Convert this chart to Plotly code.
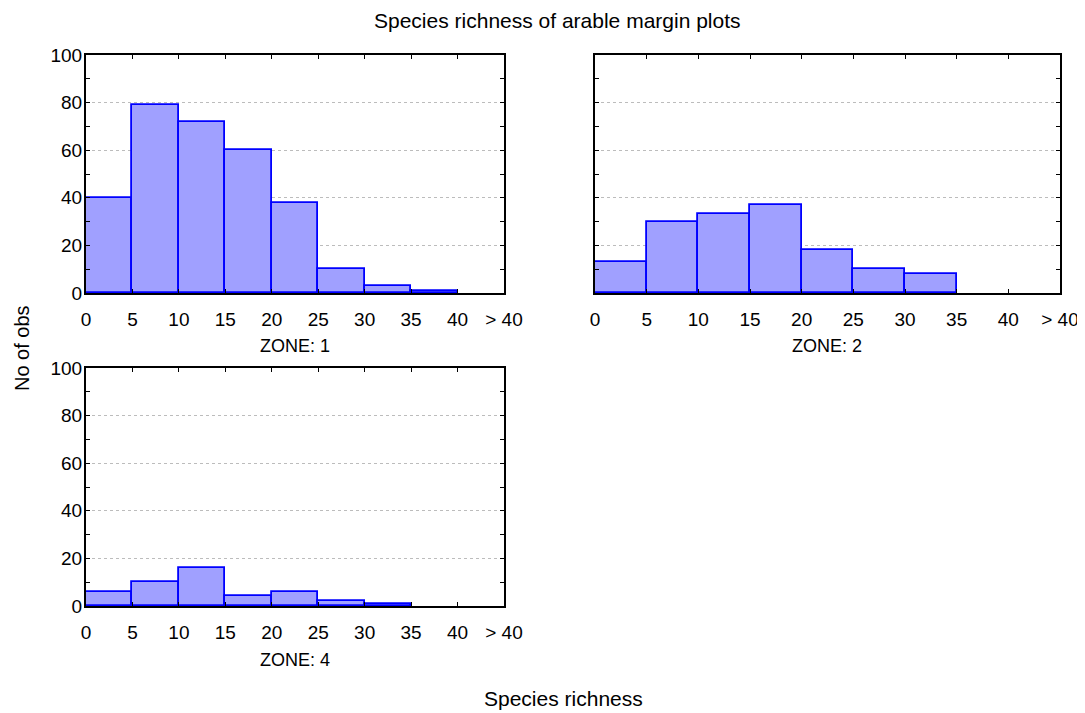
import plotly.graph_objects as go

# ---- data ----
bin_edges = [0, 5, 10, 15, 20, 25, 30, 35, 40]
bin_width = 5
x_tick_vals = [0, 5, 10, 15, 20, 25, 30, 35, 40, 45]
x_tick_labels = ['0', '5', '10', '15', '20', '25', '30', '35', '40', '> 40']
y_tick_vals = [0, 20, 40, 60, 80, 100]
zone_names = ['ZONE: 1', 'ZONE: 2', 'ZONE: 4']
zone1_counts = [40, 79, 72, 60, 38, 10, 3, 1]
zone2_counts = [13, 30, 33, 37, 18, 10, 8, 0]
zone4_counts = [6, 10, 16, 4, 6, 2, 1, 0]

W, H = 1085, 713
OFF = 8  # page body margin
FONT = 'Liberation Sans, Arial, sans-serif'
FS_TICK = 19
FS_ZONE = 18
FS_TITLE = 21


def px_x(p):
    return (p - OFF) / W


def px_y(p):
    return 1 - (p - OFF) / H


centers = [e + bin_width / 2 for e in bin_edges[:-1]]

# panel pixel boxes (left, right, top, bottom) in window pixels
panels = [(86, 504, 55, 293), (595, 1060, 55, 293), (86, 504, 368, 606)]
all_counts = [zone1_counts, zone2_counts, zone4_counts]

fig = go.Figure()
for i, (counts, box) in enumerate(zip(all_counts, panels)):
    sfx = '' if i == 0 else str(i + 1)
    fig.add_trace(go.Bar(
        x=centers, y=[v if v > 0 else None for v in counts], width=bin_width,
        marker=dict(color='#a0a0ff', line=dict(color='#0000ff', width=1.8)),
        xaxis='x' + sfx, yaxis='y' + sfx, showlegend=False,
        hoverinfo='x+y',
    ))
    l, r, t, b = box
    xa = dict(
        domain=[px_x(l), px_x(r)], range=[0, 45], anchor='y' + sfx,
        tickvals=x_tick_vals, ticktext=x_tick_labels,
        ticks='inside', ticklen=4, tickcolor='black', tickwidth=1,
        showline=True, linecolor='black', linewidth=2, mirror='allticks',
        showgrid=False, zeroline=False, fixedrange=True, automargin=False,
        tickfont=dict(family=FONT, size=FS_TICK, color='black'),
        ticklabelstandoff=8,
    )
    ya = dict(
        domain=[px_y(b), px_y(t)], range=[0, 100], anchor='x' + sfx,
        tickvals=y_tick_vals,
        ticks='inside', ticklen=4, tickcolor='black', tickwidth=1,
        minor=dict(dtick=10, ticks='inside', ticklen=4, tickcolor='black', showgrid=False),
        showline=True, linecolor='black', linewidth=2, mirror='allticks',
        showgrid=True, gridcolor='#bcbcbc', griddash='dot', gridwidth=1,
        zeroline=False, fixedrange=True, automargin=False,
        showticklabels=(i != 1),
        tickfont=dict(family=FONT, size=FS_TICK, color='black'),
        ticklabelstandoff=-2,
    )
    fig.layout['xaxis' + sfx] = xa
    fig.layout['yaxis' + sfx] = ya

annotations = []
zone_label_pos = [(295, 346), (827, 346), (295, 660)]
for name, (px, py) in zip(zone_names, zone_label_pos):
    annotations.append(dict(text=name, x=px_x(px), y=px_y(py), xref='paper', yref='paper',
                            showarrow=False, xanchor='center', yanchor='middle',
                            font=dict(family=FONT, size=FS_ZONE, color='black')))
annotations.append(dict(text='Species richness', x=px_x(563), y=px_y(698), xref='paper', yref='paper',
                        showarrow=False, xanchor='center', yanchor='middle',
                        font=dict(family=FONT, size=FS_TITLE, color='black')))
annotations.append(dict(text='No of obs', x=px_x(22), y=px_y(348), xref='paper', yref='paper',
                        showarrow=False, xanchor='center', yanchor='middle', textangle=-90,
                        font=dict(family=FONT, size=20, color='black')))
annotations.append(dict(text='Species richness of arable margin plots', x=px_x(557), y=px_y(20),
                        xref='paper', yref='paper', showarrow=False, xanchor='center', yanchor='middle',
                        font=dict(family=FONT, size=FS_TITLE, color='black')))

fig.update_layout(
    width=W, height=H, margin=dict(l=0, r=0, t=0, b=0, pad=0, autoexpand=False),
    paper_bgcolor='white', plot_bgcolor='white',
    annotations=annotations, bargap=0,
)

fig.write_html('out.html', config={'displayModeBar': False})
